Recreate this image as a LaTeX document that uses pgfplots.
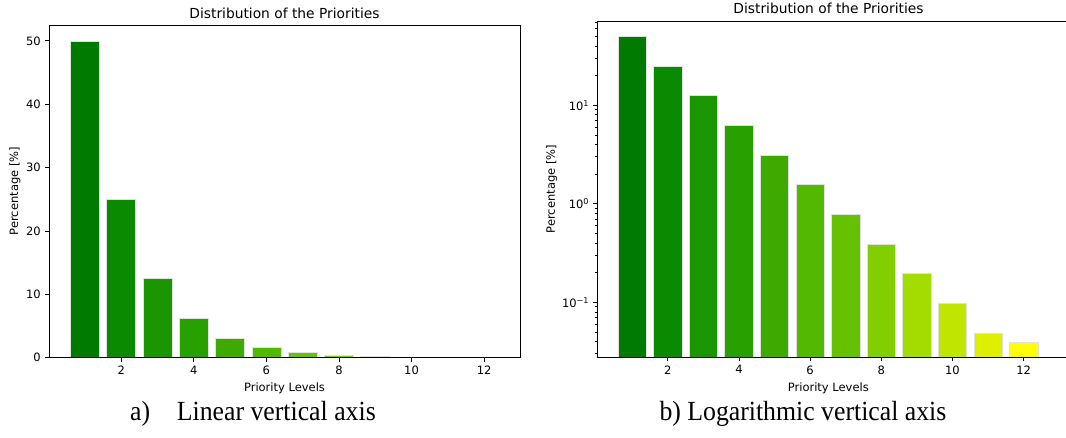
\documentclass[border=0pt]{standalone}
\usepackage{fontspec}
\setmainfont{DejaVu Sans}
\newfontfamily\capfont[FakeStretch=0.93]{Liberation Serif}
\usepackage{pgfplots}
\pgfplotsset{compat=1.18}
\definecolor{c1}{RGB}{0,122,0}
\definecolor{c2}{RGB}{10,138,0}
\definecolor{c3}{RGB}{26,150,0}
\definecolor{c4}{RGB}{40,160,0}
\definecolor{c5}{RGB}{62,170,0}
\definecolor{c6}{RGB}{82,184,0}
\definecolor{c7}{RGB}{102,194,0}
\definecolor{c8}{RGB}{130,206,0}
\definecolor{c9}{RGB}{162,220,0}
\definecolor{c10}{RGB}{192,230,0}
\definecolor{c11}{RGB}{222,240,0}
\definecolor{c12}{RGB}{255,255,0}
\pgfplotsset{bs/.style={ybar,bar width=0.8,draw=black!12,line width=0.6pt}}
\newcommand{\bars}{%
\addplot[bs,fill=c1] coordinates {(1,50)};
\addplot[bs,fill=c2] coordinates {(2,25)};
\addplot[bs,fill=c3] coordinates {(3,12.5)};
\addplot[bs,fill=c4] coordinates {(4,6.25)};
\addplot[bs,fill=c5] coordinates {(5,3.125)};
\addplot[bs,fill=c6] coordinates {(6,1.5625)};
\addplot[bs,fill=c7] coordinates {(7,0.78125)};
\addplot[bs,fill=c8] coordinates {(8,0.390625)};
\addplot[bs,fill=c9] coordinates {(9,0.1953)};
\addplot[bs,fill=c10] coordinates {(10,0.0977)};
\addplot[bs,fill=c11] coordinates {(11,0.0490)};
\addplot[bs,fill=c12] coordinates {(12,0.0395)};
}
\newcommand{\lab}{\fontsize{11.5}{13}\selectfont}
\newcommand{\ttl}{\fontsize{13.8}{16}\selectfont}
\newcommand{\capf}{\capfont\fontsize{27.7}{30}\selectfont}
\begin{document}
\begin{tikzpicture}[x=1pt,y=1pt]
\useasboundingbox (0,0) rectangle (1066,437);
\pgfplotsset{common/.style={scale only axis, anchor=south west, axis on top,
  tick align=outside, tick pos=left,
  major tick length=4pt, minor tick length=2pt,
  tick style={black, line width=0.8pt},
  axis line style={black, line width=0.8pt},
  tick label style={font=\lab},
  xticklabel style={inner sep=0pt, yshift=-4pt},
  yticklabel style={inner sep=0pt, xshift=-4pt},
  xtick={2,4,...,12},
  /pgf/number format/assume math mode=true}}
\begin{axis}[common, at={(49pt,79.3pt)}, width=471pt, height=332.7pt,
  xmin=0.01, xmax=12.99, ymin=0, ymax=52.5, ytick={0,10,...,50}]
\bars
\end{axis}
\begin{axis}[common, at={(597.3pt,79.7pt)}, width=468.7pt, height=336.3pt,
  xmin=0.02, xmax=13.19, ymode=log, ymin=0.0277, ymax=71.8, log origin=infty,
  ytick={0.1,1,10}, yticklabels={10\textsuperscript{−1},10\textsuperscript{0},10\textsuperscript{1}},
  minor ytick={0.03,0.04,0.05,0.06,0.07,0.08,0.09,0.2,0.3,0.4,0.5,0.6,0.7,0.8,0.9,2,3,4,5,6,7,8,9,20,30,40,50,60,70},
  axis y line*=left, every non boxed y axis/.style={}, ytick align=outside,
  y axis line style={-}]
\bars
\end{axis}
\node[anchor=base, inner sep=0] at (284.5,418.7) {\ttl Distribution of the Priorities};
\node[anchor=base, inner sep=0] at (828.5,423) {\ttl Distribution of the Priorities};
\node[anchor=base, inner sep=0] at (284.5,46) {\lab Priority Levels};
\node[anchor=base, inner sep=0] at (828.3,46) {\lab Priority Levels};
\node[rotate=90, inner sep=0] at (15,246) {\lab Percentage [\%]};
\node[rotate=90, inner sep=0] at (551.7,248) {\lab Percentage [\%]};
\node[anchor=base west, inner sep=0] at (130,17) {\capf a)};
\node[anchor=base west, inner sep=0] at (176.7,17) {\capf Linear vertical axis};
\node[anchor=base west, inner sep=0] at (659.3,17) {\capf b) Logarithmic vertical axis};
\end{tikzpicture}
\end{document}
